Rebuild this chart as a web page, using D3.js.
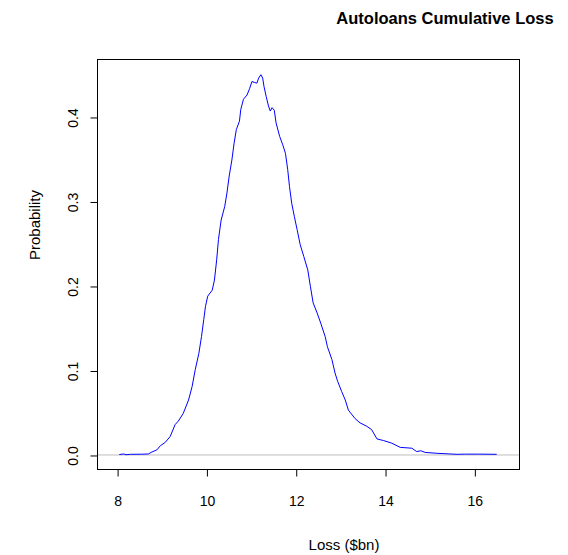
<!DOCTYPE html>
<html>
<head>
<meta charset="utf-8">
<script src="https://cdn.jsdelivr.net/npm/d3@7"></script>
<style>
html,body{margin:0;padding:0;background:#fff;}
svg{display:block;font-family:"Liberation Sans",Arial,Helvetica,sans-serif;}
</style>
</head>
<body>
<svg id="chart" width="568" height="555"></svg>
<script>
const chartTitle = "Autoloans Cumulative Loss";
const xLabel = "Loss ($bn)";
const yLabel = "Probability";
const xTicks = [8, 10, 12, 14, 16];
const yTicks = [0.0, 0.1, 0.2, 0.3, 0.4];
const xDomain = [7.55, 17.0];
const yDomain = [-0.0166, 0.4686];

const lossX = [8.05, 8.15, 8.20, 8.30, 8.55, 8.70, 8.78, 8.89, 8.97, 9.08, 9.19, 9.30, 9.37, 9.48, 9.60, 9.68, 9.75, 9.83, 9.89, 9.94, 9.98, 10.03, 10.13, 10.18, 10.23, 10.27, 10.33, 10.41, 10.46, 10.51, 10.57, 10.62, 10.67, 10.74, 10.77, 10.83, 10.91, 10.97, 11.02, 11.07, 11.13, 11.17, 11.22, 11.26, 11.29, 11.34, 11.39, 11.43, 11.47, 11.52, 11.56, 11.64, 11.71, 11.77, 11.82, 11.86, 11.91, 11.97, 12.03, 12.10, 12.18, 12.27, 12.33, 12.39, 12.48, 12.56, 12.66, 12.71, 12.81, 12.88, 12.94, 13.03, 13.11, 13.18, 13.33, 13.44, 13.59, 13.70, 13.82, 13.97, 14.15, 14.34, 14.60, 14.71, 14.80, 14.90, 15.16, 15.45, 15.61, 15.80, 16.10, 16.50];
const density = [0.0005, 0.0012, 0.0003, 0.0008, 0.0009, 0.0012, 0.0035, 0.006, 0.011, 0.015, 0.022, 0.036, 0.040, 0.049, 0.065, 0.081, 0.101, 0.120, 0.140, 0.160, 0.176, 0.188, 0.195, 0.207, 0.231, 0.255, 0.278, 0.294, 0.310, 0.330, 0.349, 0.369, 0.385, 0.395, 0.409, 0.421, 0.426, 0.434, 0.442, 0.441, 0.440, 0.446, 0.450, 0.446, 0.436, 0.424, 0.413, 0.407, 0.411, 0.408, 0.393, 0.377, 0.367, 0.357, 0.338, 0.318, 0.298, 0.282, 0.267, 0.249, 0.235, 0.219, 0.199, 0.180, 0.168, 0.156, 0.140, 0.128, 0.113, 0.097, 0.087, 0.075, 0.065, 0.053, 0.043, 0.038, 0.034, 0.030, 0.019, 0.017, 0.014, 0.009, 0.008, 0.004, 0.005, 0.003, 0.002, 0.0012, 0.0008, 0.0010, 0.0010, 0.0008];

const svg = d3.select("#chart");
const pLeft = 97, pRight = 519, pTop = 59, pBottom = 469;
const x = d3.scaleLinear().domain(xDomain).range([pLeft, pRight]);
const y = d3.scaleLinear().domain(yDomain).range([pBottom, pTop]);

// baseline
svg.append("line")
  .attr("x1", pLeft).attr("x2", pRight)
  .attr("y1", y(0)).attr("y2", y(0))
  .attr("stroke", "#bebebe").attr("stroke-width", 1);

// curve
const pts = lossX.map((v, i) => [v, density[i]]);
svg.append("path")
  .datum(pts)
  .attr("fill", "none")
  .attr("stroke", "#0000ff")
  .attr("stroke-width", 1)
  .attr("stroke-linejoin", "round")
  .attr("d", d3.line().x(d => x(d[0])).y(d => y(d[1])));

// box
svg.append("rect")
  .attr("x", pLeft + 0.5).attr("y", pTop + 0.5)
  .attr("width", pRight - pLeft).attr("height", pBottom - pTop)
  .attr("fill", "none").attr("stroke", "#000").attr("stroke-width", 1);

// x axis
const xAxis = d3.axisBottom(x).tickValues(xTicks).tickSize(7).tickPadding(20).tickFormat(d3.format("d"));
const gx = svg.append("g").attr("transform", `translate(0.5,${pBottom + 0.5})`).call(xAxis);
gx.select(".domain").attr("d", `M${x(8)},0H${x(16)}`).attr("stroke", "#000");
gx.selectAll("text").attr("font-size", 14).attr("fill", "#000").attr("font-family", "Liberation Sans, Arial, sans-serif");

// y axis
const yAxis = d3.axisLeft(y).tickValues(yTicks).tickSize(7).tickFormat(d3.format(".1f"));
const gy = svg.append("g").attr("transform", `translate(${pLeft + 0.5},0.5)`).call(yAxis);
gy.select(".domain").attr("d", `M0,${y(0)}V${y(0.4)}`).attr("stroke", "#000");
gy.selectAll(".tick text")
  .attr("font-size", 14).attr("fill", "#000").attr("font-family", "Liberation Sans, Arial, sans-serif")
  .attr("text-anchor", "middle").attr("dy", null).attr("x", 0).attr("y", 0)
  .attr("transform", "translate(-20,0) rotate(-90)");

// labels
svg.append("text").attr("x", 445).attr("y", 24)
  .attr("text-anchor", "middle").attr("font-weight", "bold").attr("font-size", 16.5)
  .text(chartTitle);
svg.append("text").attr("x", 344).attr("y", 550)
  .attr("text-anchor", "middle").attr("font-size", 15)
  .text(xLabel);
svg.append("text").attr("transform", "translate(40,225) rotate(-90)")
  .attr("text-anchor", "middle").attr("font-size", 15)
  .text(yLabel);
</script>
</body>
</html>
